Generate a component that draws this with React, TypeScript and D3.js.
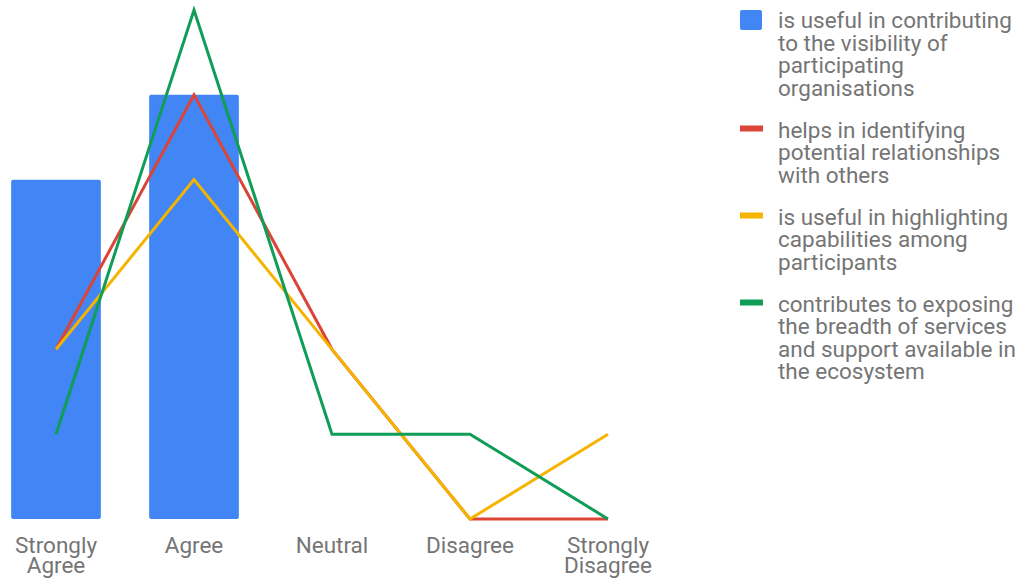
import React from "react";
import * as d3 from "d3";

const categories = ["Strongly Agree", "Agree", "Neutral", "Disagree", "Strongly Disagree"];
const categoryLines = [["Strongly", "Agree"], ["Agree"], ["Neutral"], ["Disagree"], ["Strongly", "Disagree"]];

const visibility = [4, 5, 0, 0, 0];
const relationships = [2, 5, 2, 0, 0];
const capabilities = [2, 4, 2, 0, 1];
const breadth = [1, 6, 1, 1, 0];

const legendLabels = [
  ["is useful in contributing", "to the visibility of", "participating", "organisations"],
  ["helps in identifying", "potential relationships", "with others"],
  ["is useful in highlighting", "capabilities among", "participants"],
  ["contributes to exposing", "the breadth of services", "and support available in", "the ecosystem"],
];

const colors = ["#4285f4", "#db4437", "#f4b400", "#0f9d58"];

const W = 1019;
const H = 581;

export default function App() {
  const x = d3
    .scaleBand<string>()
    .domain(categories)
    .range([-13, 677])
    .paddingInner(0.35)
    .paddingOuter(0.175);
  const y = d3.scaleLinear().domain([0, 6]).range([519, 10]);
  const cx = (c: string) => (x(c) ?? 0) + x.bandwidth() / 2;

  const lineSeries = [
    { values: relationships, color: colors[1] },
    { values: capabilities, color: colors[2] },
    { values: breadth, color: colors[3] },
  ];
  const line = d3
    .line<number>()
    .x((_, i) => cx(categories[i]))
    .y((d) => y(d));

  const font = "Roboto, 'Noto Sans', sans-serif";
  const textColor = "#757575";
  const fontSize = 22.5;

  // legend layout
  const legendX = 740;
  const textX = 778;
  const lineH = 22.5;
  const itemGap = 19.5;
  let cursor = 20;
  const legendItems = legendLabels.map((lines, i) => {
    const top = cursor;
    cursor += lines.length * lineH + itemGap;
    return { lines, top, color: colors[i], i };
  });

  return (
    <svg
      width={W}
      height={H}
      style={{ position: "absolute", left: 0, top: 0, background: "#fff" }}
      fontFamily={font}
    >
      {visibility.map((v, i) => {
        if (v === 0) return null;
        const c = categories[i];
        return (
          <rect
            key={c}
            x={x(c)}
            y={y(v)}
            width={x.bandwidth()}
            height={y(0) - y(v)}
            rx={2}
            fill={colors[0]}
          />
        );
      })}
      {lineSeries.map((s, i) => (
        <path
          key={i}
          d={line(s.values) ?? ""}
          fill="none"
          stroke={s.color}
          strokeWidth={3}
          strokeLinejoin="miter"
        />
      ))}
      {categories.map((c, i) => (
        <text
          key={c}
          x={cx(c)}
          y={545}
          textAnchor="middle"
          dominantBaseline="central"
          fontSize={fontSize}
          fill={textColor}
        >
          {categoryLines[i].map((l, j) => (
            <tspan key={j} x={cx(c)} dy={j === 0 ? 0 : 20}>
              {l}
            </tspan>
          ))}
        </text>
      ))}
      {legendItems.map((it) => (
        <g key={it.i}>
          {it.i === 0 ? (
            <rect x={legendX} y={it.top - 10} width={22} height={20} rx={2} fill={it.color} />
          ) : (
            <rect x={legendX} y={it.top - 4} width={23} height={6} fill={it.color} />
          )}
          <text fontSize={fontSize} fill={textColor} dominantBaseline="central">
            {it.lines.map((l, j) => (
              <tspan key={j} x={textX} y={it.top + j * lineH}>
                {l}
              </tspan>
            ))}
          </text>
        </g>
      ))}
    </svg>
  );
}
